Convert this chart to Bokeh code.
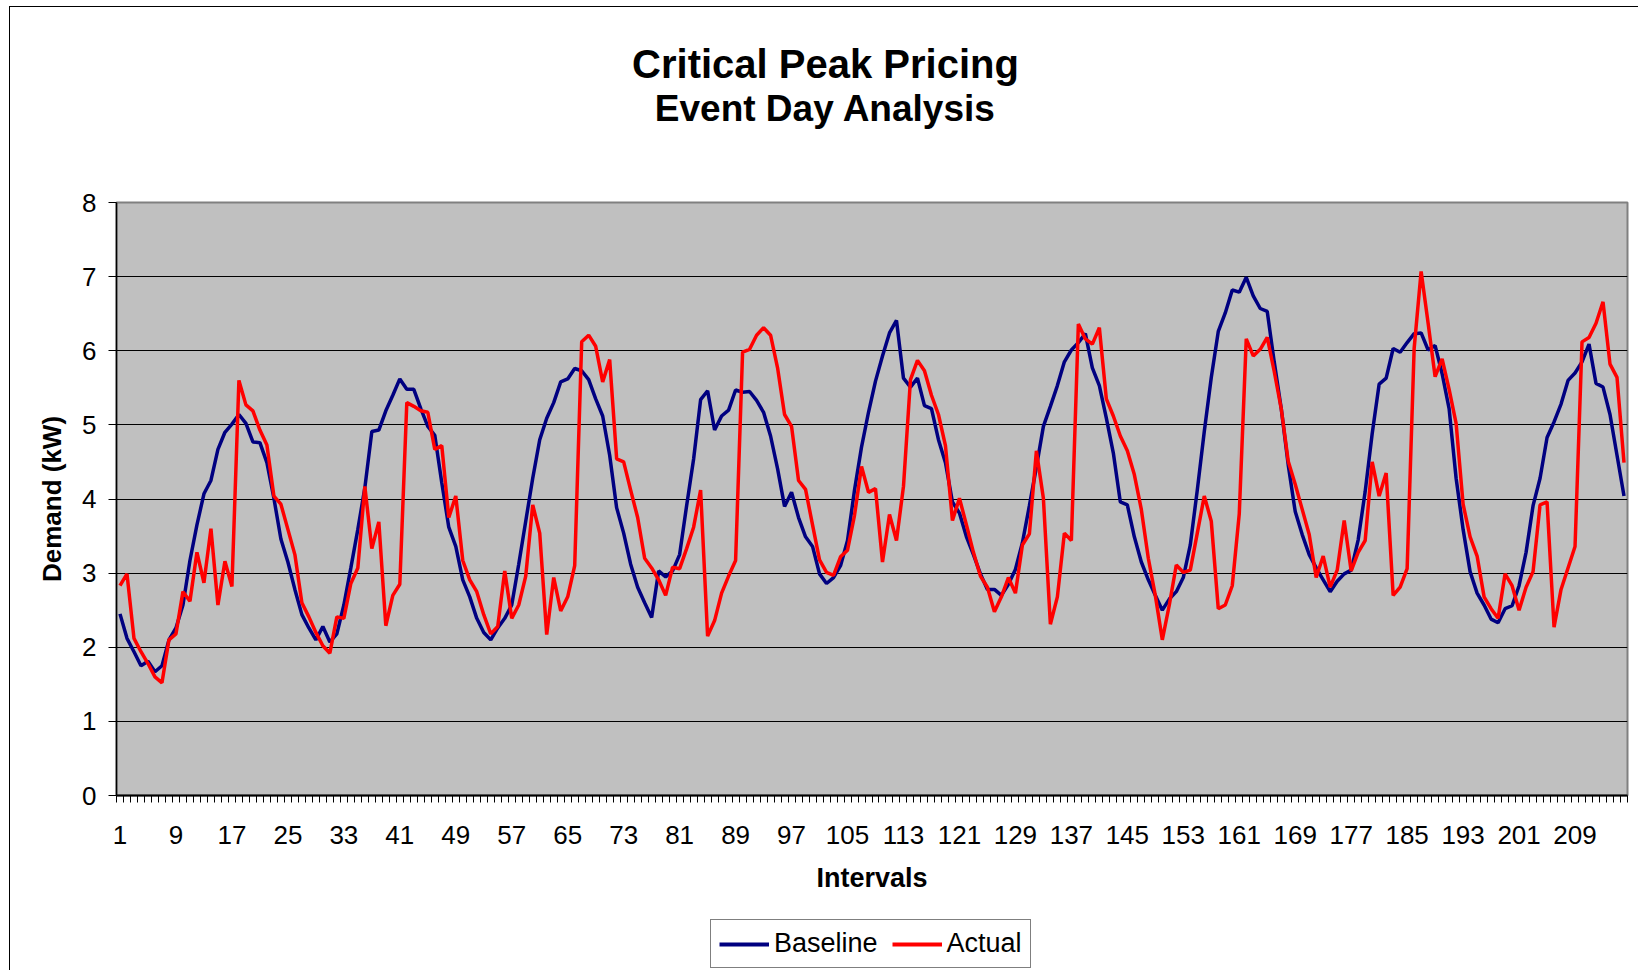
from bokeh.plotting import figure
from bokeh.layouts import column
from bokeh.models import ColumnDataSource, FixedTicker, Label, Legend, LegendItem, Range1d
from bokeh.embed import file_html
from bokeh.resources import INLINE

# ---------------- data ----------------
intervals = list(range(1, 217))

baseline = [
    2.45, 2.12, 1.94, 1.75, 1.81, 1.67, 1.75, 2.10, 2.26, 2.57,
    3.17, 3.65, 4.07, 4.25, 4.67, 4.90, 5.01, 5.14, 5.02, 4.77,
    4.76, 4.49, 4.01, 3.46, 3.15, 2.78, 2.44, 2.26, 2.10, 2.28,
    2.07, 2.18, 2.57, 3.07, 3.59, 4.15, 4.91, 4.93, 5.19, 5.40,
    5.62, 5.48, 5.48, 5.22, 4.98, 4.86, 4.22, 3.62, 3.36, 2.91,
    2.68, 2.39, 2.20, 2.10, 2.26, 2.39, 2.57, 3.12, 3.70, 4.28,
    4.80, 5.09, 5.30, 5.58, 5.62, 5.76, 5.73, 5.61, 5.35, 5.12,
    4.59, 3.88, 3.54, 3.12, 2.81, 2.60, 2.40, 3.03, 2.95, 3.03,
    3.25, 3.91, 4.54, 5.34, 5.46, 4.93, 5.12, 5.20, 5.47, 5.44,
    5.45, 5.33, 5.17, 4.85, 4.41, 3.90, 4.09, 3.75, 3.49, 3.36,
    2.99, 2.86, 2.94, 3.10, 3.44, 4.12, 4.70, 5.17, 5.59, 5.93,
    6.24, 6.41, 5.63, 5.51, 5.63, 5.26, 5.22, 4.80, 4.49, 3.96,
    3.81, 3.49, 3.25, 2.99, 2.78, 2.78, 2.70, 2.85, 3.05, 3.41,
    3.91, 4.43, 4.98, 5.25, 5.53, 5.85, 6.01, 6.11, 6.23, 5.77,
    5.53, 5.09, 4.62, 3.96, 3.92, 3.49, 3.15, 2.91, 2.70, 2.50,
    2.65, 2.75, 2.94, 3.38, 4.12, 4.91, 5.64, 6.26, 6.51, 6.82,
    6.79, 6.99, 6.74, 6.57, 6.53, 5.85, 5.22, 4.46, 3.83, 3.52,
    3.25, 3.07, 2.91, 2.75, 2.89, 2.99, 3.04, 3.45, 4.10, 4.88,
    5.55, 5.63, 6.03, 5.98, 6.11, 6.23, 6.24, 6.01, 6.07, 5.69,
    5.22, 4.28, 3.59, 3.02, 2.73, 2.57, 2.38, 2.33, 2.52, 2.56,
    2.83, 3.28, 3.91, 4.28, 4.83, 5.04, 5.28, 5.60, 5.70, 5.85,
    6.09, 5.56, 5.51, 5.14, 4.59, 4.04,
]

actual = [
    2.83, 2.99, 2.12, 1.94, 1.78, 1.60, 1.52, 2.10, 2.18, 2.75,
    2.62, 3.28, 2.87, 3.60, 2.57, 3.16, 2.82, 5.60, 5.27, 5.19,
    4.93, 4.73, 4.04, 3.93, 3.59, 3.25, 2.60, 2.41, 2.20, 2.02,
    1.92, 2.41, 2.39, 2.86, 3.07, 4.17, 3.33, 3.69, 2.29, 2.70,
    2.85, 5.30, 5.25, 5.19, 5.17, 4.67, 4.72, 3.75, 4.04, 3.17,
    2.91, 2.75, 2.44, 2.18, 2.28, 3.03, 2.39, 2.57, 2.96, 3.92,
    3.54, 2.17, 2.94, 2.49, 2.68, 3.10, 6.12, 6.21, 6.06, 5.58,
    5.88, 4.54, 4.50, 4.12, 3.75, 3.20, 3.07, 2.91, 2.70, 3.08,
    3.06, 3.33, 3.62, 4.12, 2.15, 2.36, 2.73, 2.96, 3.17, 5.98,
    6.02, 6.21, 6.31, 6.21, 5.77, 5.14, 4.98, 4.25, 4.13, 3.65,
    3.18, 3.01, 2.97, 3.22, 3.31, 3.78, 4.44, 4.09, 4.14, 3.15,
    3.79, 3.44, 4.17, 5.61, 5.87, 5.73, 5.40, 5.14, 4.72, 3.71,
    4.01, 3.65, 3.28, 2.96, 2.81, 2.48, 2.68, 2.94, 2.73, 3.38,
    3.53, 4.65, 4.01, 2.31, 2.68, 3.54, 3.44, 6.36, 6.16, 6.09,
    6.31, 5.35, 5.12, 4.85, 4.65, 4.33, 3.86, 3.20, 2.70, 2.10,
    2.57, 3.11, 3.01, 3.04, 3.54, 4.04, 3.70, 2.52, 2.57, 2.83,
    3.80, 6.16, 5.93, 6.02, 6.18, 5.72, 5.22, 4.51, 4.20, 3.86,
    3.52, 2.94, 3.23, 2.81, 3.04, 3.71, 3.03, 3.28, 3.44, 4.50,
    4.04, 4.35, 2.70, 2.81, 3.06, 6.03, 7.07, 6.37, 5.65, 5.89,
    5.48, 5.02, 3.93, 3.49, 3.23, 2.68, 2.52, 2.39, 2.99, 2.83,
    2.50, 2.81, 3.02, 3.92, 3.96, 2.27, 2.78, 3.07, 3.36, 6.12,
    6.18, 6.37, 6.66, 5.82, 5.64, 4.49,
]

x_tick_labels = [1, 9, 17, 25, 33, 41, 49, 57, 65, 73, 81, 89, 97, 105, 113,
                 121, 129, 137, 145, 153, 161, 169, 177, 185, 193, 201, 209]
y_ticks = [0, 1, 2, 3, 4, 5, 6, 7, 8]

title_text = "Critical Peak Pricing"
subtitle_text = "Event Day Analysis"
series_names = ["Baseline", "Actual"]
series_colors = ["#000080", "#FF0000"]

FONT = "Liberation Sans"
W = 1628
B_LEFT, B_RIGHT = 106, 11
FRAME_W = W - B_LEFT - B_RIGHT
HEAD_H, MAIN_H, FOOT_H = 175, 726, 62


def blank(height):
    f = figure(width=W, height=height, title=None,
               x_range=Range1d(0, FRAME_W), y_range=Range1d(0, height),
               x_axis_location=None, y_axis_location=None,
               min_border_left=B_LEFT, min_border_right=B_RIGHT,
               min_border_top=0, min_border_bottom=0,
               output_backend="svg", toolbar_location=None,
               outline_line_color=None, background_fill_color="white",
               border_fill_color="white")
    f.xgrid.visible = False
    f.ygrid.visible = False
    return f


# ---------------- header (titles) ----------------
head = blank(HEAD_H)
head.add_layout(Label(x=709, y=119, x_units="screen", y_units="screen", text=title_text,
                      text_font=FONT, text_font_size="40px", text_font_style="bold",
                      text_align="center", text_baseline="alphabetic", text_color="black"))
head.add_layout(Label(x=709, y=74, x_units="screen", y_units="screen", text=subtitle_text,
                      text_font=FONT, text_font_size="37px", text_font_style="bold",
                      text_align="center", text_baseline="alphabetic", text_color="black"))

# ---------------- main chart ----------------
p = figure(
    width=W, height=MAIN_H, title=None,
    x_range=Range1d(0.5, len(intervals) + 0.5), y_range=Range1d(0, 8),
    output_backend="svg", toolbar_location=None,
    min_border_left=B_LEFT, min_border_right=B_RIGHT,
    min_border_top=20, min_border_bottom=113,
    background_fill_color="#C0C0C0", border_fill_color="white",
    outline_line_color="#808080", outline_line_width=2,
)

src = ColumnDataSource(dict(interval=intervals, baseline=baseline, actual=actual))
p.line("interval", "baseline", source=src, line_color=series_colors[0], line_width=3.5)
p.line("interval", "actual", source=src, line_color=series_colors[1], line_width=3.5)

boundaries = [i - 0.5 for i in intervals] + [intervals[-1] + 0.5]
xa = p.xaxis[0]
xa.ticker = FixedTicker(ticks=x_tick_labels, minor_ticks=boundaries)
xa.major_tick_out = 0
xa.major_tick_in = 0
xa.minor_tick_out = 7
xa.minor_tick_in = 0
xa.minor_tick_line_color = "black"
xa.axis_line_color = "black"
xa.axis_line_width = 2
xa.major_label_text_font = FONT
xa.major_label_text_font_size = "26px"
xa.major_label_text_color = "black"
xa.major_label_standoff = 23
xa.axis_label = "Intervals"
xa.axis_label_text_font = FONT
xa.axis_label_text_font_size = "27px"
xa.axis_label_text_font_style = "bold"
xa.axis_label_text_color = "black"
xa.axis_label_standoff = 16

ya = p.yaxis[0]
ya.ticker = FixedTicker(ticks=y_ticks, minor_ticks=[])
ya.major_tick_out = 8
ya.major_tick_in = 0
ya.major_tick_line_color = "black"
ya.axis_line_color = "black"
ya.axis_line_width = 1.5
ya.major_label_text_font = FONT
ya.major_label_text_font_size = "26px"
ya.major_label_text_color = "black"
ya.major_label_standoff = 12
ya.axis_label = "Demand (kW)"
ya.axis_label_text_font = FONT
ya.axis_label_text_font_size = "26px"
ya.axis_label_text_font_style = "bold"
ya.axis_label_text_color = "black"
ya.axis_label_standoff = 12

p.xgrid.visible = False
p.ygrid.ticker = FixedTicker(ticks=y_ticks[1:-1])
p.ygrid.grid_line_color = "black"
p.ygrid.grid_line_width = 1

# ---------------- footer (legend) ----------------
foot = blank(FOOT_H)
nan = float("nan")
leg_renderers = [foot.line(x=[nan], y=[nan], line_color=c, line_width=4) for c in series_colors]
legend = Legend(
    items=[LegendItem(label=n, renderers=[r]) for n, r in zip(series_names, leg_renderers)],
    orientation="horizontal", location=(594, 2),
    border_line_color="black", border_line_width=1,
    background_fill_color="white", background_fill_alpha=1.0,
    label_text_font=FONT, label_text_font_size="27px", label_text_color="black",
    glyph_width=50, glyph_height=20, padding=8, spacing=14, label_standoff=5, margin=0,
)
foot.add_layout(legend, "center")

layout = column(head, p, foot, spacing=0)
layout.styles = {"margin-left": "9px", "margin-top": "6px",
                 "border-left": "1px solid black", "border-top": "1px solid black"}

open("out.html", "w").write(file_html(layout, INLINE))
